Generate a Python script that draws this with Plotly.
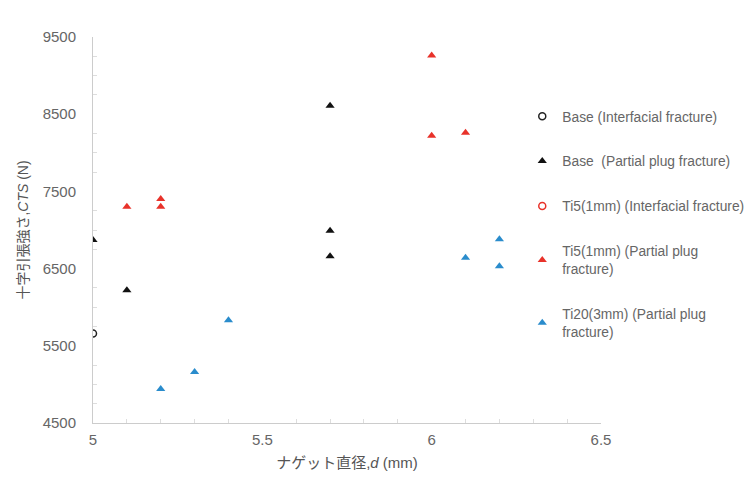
import plotly.graph_objects as go

base_if_x = [5.0]
base_if_y = [5660]
base_pp_x = [5.0, 5.1, 5.7, 5.7, 5.7]
base_pp_y = [6870, 6220, 8610, 6990, 6660]
ti5_if_x = []
ti5_if_y = []
ti5_pp_x = [5.1, 5.2, 5.2, 6.0, 6.0, 6.1]
ti5_pp_y = [7300, 7400, 7300, 9260, 8220, 8260]
ti20_pp_x = [5.2, 5.3, 5.4, 6.1, 6.2, 6.2]
ti20_pp_y = [4940, 5160, 5830, 6640, 6880, 6530]

names = [
    "Base (Interfacial fracture)",
    "Base  (Partial plug fracture)",
    "Ti5(1mm) (Interfacial fracture)",
    "Ti5(1mm) (Partial plug<br>fracture)",
    "Ti20(3mm) (Partial plug<br>fracture)",
]

font = "Liberation Sans, Noto Sans CJK JP, sans-serif"
fig = go.Figure()

def add(x, y, name, symbol, color, g):
    fig.add_trace(go.Scatter(
        x=x if x else [None], y=y if y else [None], mode="markers", name=name,
        legendgroup=g,
        marker=dict(symbol=symbol, size=8 if "triangle" in symbol else 7, color=color,
                    line=dict(width=1.5 if "open" in symbol else 0, color=color)),
    ))

add(base_if_x, base_if_y, names[0], "circle-open", "#222222", "a")
add(base_pp_x, base_pp_y, names[1], "triangle-up", "#111111", "b")
add(ti5_if_x, ti5_if_y, names[2], "circle-open", "#e8322a", "c")
add(ti5_pp_x, ti5_pp_y, names[3], "triangle-up", "#e8322a", "d")
add(ti20_pp_x, ti20_pp_y, names[4], "triangle-up", "#2a8ccc", "e")

fig.update_layout(
    width=753, height=480,
    margin=dict(l=85, r=160, t=29, b=65),
    plot_bgcolor="white", paper_bgcolor="white",
    font=dict(family=font, size=12, color="#666666"),
    showlegend=True,
    legend=dict(x=0.845, y=0.835, xanchor="left", yanchor="top",
                font=dict(size=13.8, color="#666666"),
                tracegroupgap=24, itemwidth=30, bgcolor="rgba(0,0,0,0)",
                traceorder="grouped"),
    xaxis=dict(range=[5, 6.5], dtick=0.5, showgrid=False, zeroline=False,
               showline=True, linecolor="#cccccc", linewidth=1,
               ticks="", tickfont=dict(size=15, color="#666666"), ticklabelstandoff=3,
               minor=dict(dtick=0.1, ticks="inside", ticklen=4, tickcolor="#dddddd"),
               title=dict(text="ナゲット直径,<i>d</i> (mm)", font=dict(size=15, color="#555555"), standoff=10)),
    yaxis=dict(range=[4500, 9500], tick0=4500, dtick=1000, showgrid=False, zeroline=False,
               showline=True, linecolor="#cccccc", linewidth=1,
               ticks="", tickfont=dict(size=15, color="#666666"), ticklabelstandoff=13,
               minor=dict(tick0=4500, dtick=250, ticks="inside", ticklen=4, tickcolor="#dddddd"),
               title=dict(text="十字引張強さ,<i>CTS</i> (N)", font=dict(size=14, color="#555555"), standoff=10)),
)

fig.write_html("out.html")
